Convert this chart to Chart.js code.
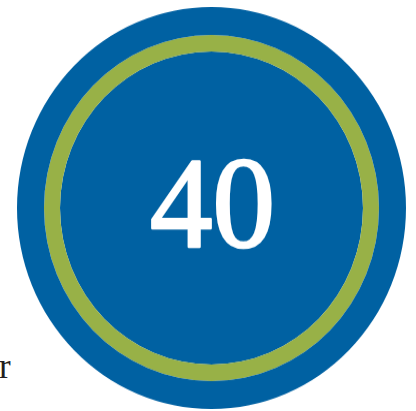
<!DOCTYPE html>
<html>
<head>
<meta charset="utf-8">
<script src="https://cdn.jsdelivr.net/npm/chart.js@4"></script>
<style>
  body { margin: 0; background: #fff; width: 416px; height: 411px; overflow: hidden; position: relative; }
  #wrap { position: absolute; left: 17px; top: 7px; width: 389px; height: 389px; transform-origin: 0 0; transform: scaleY(1.0334); }
  #side { position: absolute; left: -1px; top: 349px; font-family: "Liberation Serif", serif; font-size: 35px; color: #231f20; line-height: 1; }
</style>
</head>
<body>
<div id="wrap"><canvas id="badge"></canvas></div>
<div id="side">r</div>
<script>
// badge value and ring layers (outer -> inner)
const centerValue = 40;
const ringNames = ['outer', 'accent', 'inner'];
const ringWeights = [27, 16, 151.5];
const ringColors = ['#0061a2', '#98b147', '#0061a2'];

const centerText = {
  id: 'centerText',
  afterDraw(chart) {
    const c = chart.ctx;
    const a = chart.chartArea;
    const x = (a.left + a.right) / 2 + 1;
    c.save();
    c.fillStyle = '#ffffff';
    c.strokeStyle = '#ffffff';
    c.lineWidth = 2.6;
    c.lineJoin = 'round';
    c.font = '125px "Liberation Serif", serif';
    c.textAlign = 'center';
    c.textBaseline = 'alphabetic';
    c.fillText(String(centerValue), x, 232);
    c.strokeText(String(centerValue), x, 232);
    c.restore();
  }
};

const ctx = document.getElementById('badge');

new Chart(ctx, {
  type: 'doughnut',
  data: {
    labels: ['value'],
    datasets: ringNames.map(function(name, i) {
      return {
        label: name,
        data: [centerValue],
        backgroundColor: ringColors[i],
        borderWidth: 0,
        weight: ringWeights[i]
      };
    })
  },
  options: {
    responsive: true,
    maintainAspectRatio: false,
    animation: false,
    cutout: 0,
    layout: { padding: 0 },
    plugins: { legend: { display: false }, tooltip: { enabled: false } }
  },
  plugins: [centerText]
});
</script>
</body>
</html>
